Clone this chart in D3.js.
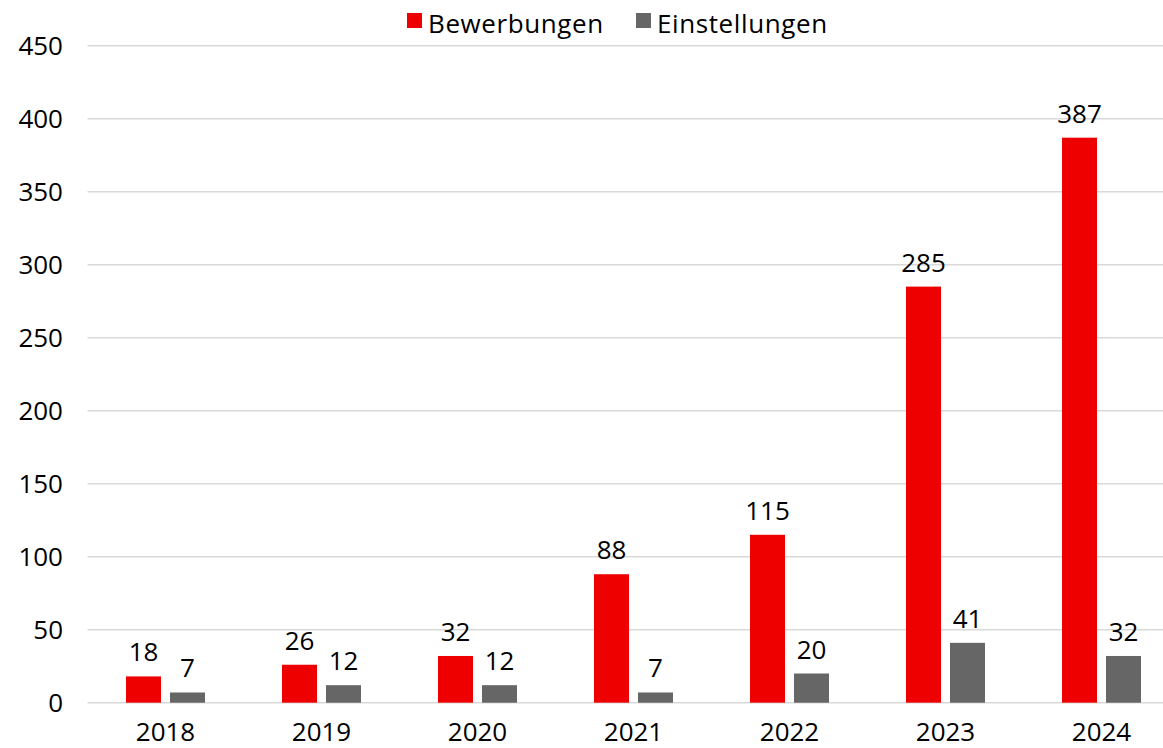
<!DOCTYPE html>
<html><head><meta charset="utf-8">
<script src="https://cdn.jsdelivr.net/npm/d3@7"></script>
<style>body{margin:0;background:#fff}svg{display:block}text{font-family:"Open Sans","Noto Sans",sans-serif;fill:#000}</style>
</head><body><svg id="c" width="1163" height="748"></svg>
<script>
const years = ["2018","2019","2020","2021","2022","2023","2024"];
const bewerbungen = [18,26,32,88,115,285,387];
const einstellungen = [7,12,12,7,20,41,32];
const yTicks = [0,50,100,150,200,250,300,350,400,450];
const seriesNames = ["Bewerbungen","Einstellungen"];
const colors = ["#ee0000","#666666"];

const svg = d3.select("#c");
const x = d3.scaleBand().domain(years).range([87.5,1179.5]);
const y = d3.scaleLinear().domain([0,450]).range([702.7,45.7]);
const barW = 35, gap = 4.5, fs = 26;

svg.append("g").selectAll("line").data(yTicks).join("line")
  .attr("x1",87.5).attr("x2",1179.5)
  .attr("y1",d=>y(d)).attr("y2",d=>y(d))
  .attr("stroke","#d9d9d9").attr("stroke-width",1.5);

svg.append("g").selectAll("text").data(yTicks).join("text")
  .attr("x",63).attr("y",d=>y(d)+9.5).attr("text-anchor","end")
  .attr("font-size",fs).text(d=>d);

svg.append("g").selectAll("text").data(years).join("text")
  .attr("x",d=>x(d)+x.bandwidth()/2).attr("y",741).attr("text-anchor","middle")
  .attr("font-size",fs).text(d=>d);

const series = [bewerbungen, einstellungen];
series.forEach((vals,si)=>{
  const off = si===0 ? -gap-barW : gap;
  const g = svg.append("g");
  g.selectAll("rect").data(vals).join("rect")
    .attr("x",(d,i)=>x(years[i])+x.bandwidth()/2+off)
    .attr("width",barW)
    .attr("y",d=>y(d)).attr("height",d=>y(0)-y(d))
    .attr("fill",colors[si]);
  g.selectAll("text").data(vals).join("text")
    .attr("x",(d,i)=>x(years[i])+x.bandwidth()/2+off+barW/2)
    .attr("y",d=>y(d)-15).attr("text-anchor","middle")
    .attr("font-size",fs).text(d=>d);
});

const leg = svg.append("g");
const legX = [407,636];
seriesNames.forEach((n,i)=>{
  leg.append("rect").attr("x",legX[i]).attr("y",13).attr("width",15).attr("height",15).attr("fill",colors[i]);
  leg.append("text").attr("x",legX[i]+21).attr("y",32.5).attr("font-size",fs).attr("letter-spacing",0.6).text(n);
});
</script></body></html>
